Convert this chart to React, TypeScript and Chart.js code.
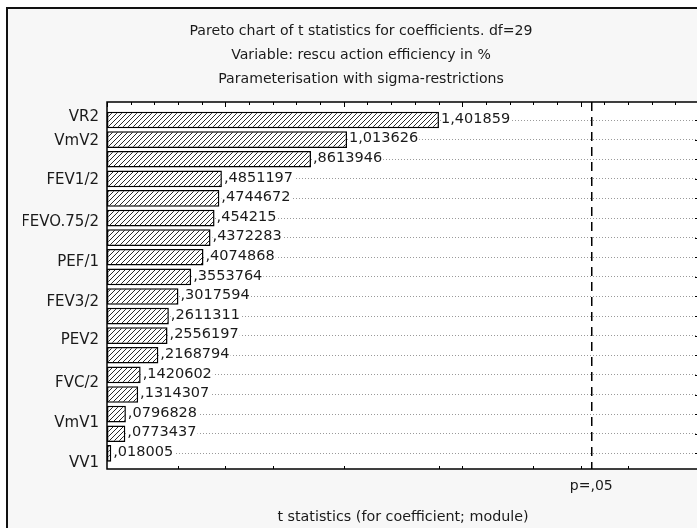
import React, { useEffect, useRef } from "react";
import { Chart, registerables } from "chart.js";

Chart.register(...registerables);

// ---- data ----
const tValues = [
  1.401859, 1.013626, 0.8613946, 0.4851197, 0.4744672, 0.454215, 0.4372283,
  0.4074868, 0.3553764, 0.3017594, 0.2611311, 0.2556197, 0.2168794, 0.1420602,
  0.1314307, 0.0796828, 0.0773437, 0.018005,
];
const effectLabels = ["VR2", "VmV2", "FEV1/2", "FEVO.75/2", "PEF/1", "FEV3/2", "PEV2", "FVC/2", "VmV1", "VV1"];
// where each effect label sits along the (row) category axis
const effectLabelRows = [0.83, 2.1, 4.06, 6.2, 8.24, 10.29, 12.22, 14.42, 16.46, 18.5];
const tCritical = 2.04523;
const pLabel = "p=,05";
const xMin = 0;
const xMax = 2.5;
const rowMin = 0.08;
const rowMax = 18.8;
const topTickStep = 0.1;
const topMajorStep = 0.5;
const bottomTickValues = [0.3, 0.5, 0.7, 1.0, 1.4, 1.5, 1.8, 2.0, 2.2];
const titleLines = [
  "Pareto chart of t statistics for coefficients. df=29",
  "Variable: rescu action efficiency in %",
  "Parameterisation with sigma-restrictions",
];
const xTitle = "t statistics (for coefficient; module)";

const FONT = '"DejaVu Sans", "Liberation Sans", Arial, sans-serif';
const TEXT = "#1a1a1a";

function fmt(v: number): string {
  return String(v).replace(/^0\./, ".").replace(".", ",");
}

export default function App() {
  const ref = useRef<HTMLCanvasElement | null>(null);

  useEffect(() => {
    const canvas = ref.current!;
    const ctx = canvas.getContext("2d")!;

    const pc = document.createElement("canvas");
    pc.width = 5;
    pc.height = 5;
    const p = pc.getContext("2d")!;
    p.fillStyle = "#fff";
    p.fillRect(0, 0, 5, 5);
    p.strokeStyle = "#2a2a2a";
    p.lineWidth = 1;
    p.beginPath();
    p.moveTo(0, 5);
    p.lineTo(5, 0);
    p.moveTo(-1, 1);
    p.lineTo(1, -1);
    p.moveTo(4, 6);
    p.lineTo(6, 4);
    p.stroke();
    const hatch = ctx.createPattern(pc, "repeat")!;

    const framePlugin = {
      id: "frame",
      beforeDraw(chart: any) {
        const c = chart.ctx;
        const { width, height, chartArea } = chart;
        c.save();
        c.fillStyle = "#fff";
        c.fillRect(0, 0, width, height);
        c.fillStyle = "#f7f7f7";
        c.fillRect(7, 8, width, height);
        c.strokeStyle = "#111";
        c.lineWidth = 2;
        c.beginPath();
        c.moveTo(7, height + 5);
        c.lineTo(7, 8);
        c.lineTo(width + 5, 8);
        c.stroke();
        c.fillStyle = "#fff";
        c.fillRect(chartArea.left, chartArea.top, chartArea.right - chartArea.left, chartArea.bottom - chartArea.top);
        c.restore();
      },
      afterDatasetsDraw(chart: any) {
        const c = chart.ctx;
        const { chartArea } = chart;
        const xs = chart.scales.x;
        const ys = chart.scales.y;
        const meta = chart.getDatasetMeta(0);
        c.save();
        // value labels
        c.font = `14.5px ${FONT}`;
        c.textBaseline = "middle";
        c.textAlign = "left";
        meta.data.forEach((bar: any, i: number) => {
          const t = fmt(tValues[i]);
          const w = c.measureText(t).width;
          const x = bar.x + 2;
          const y = bar.y - 1;
          c.fillStyle = "#fff";
          c.fillRect(x, bar.y - 3, w + 1, 6);
          c.fillStyle = TEXT;
          c.fillText(t, x, y);
        });
        // plot border
        c.strokeStyle = "#000";
        c.lineWidth = 1.5;
        c.strokeRect(chartArea.left, chartArea.top, chartArea.right - chartArea.left, chartArea.bottom - chartArea.top);
        // top ticks (inward)
        c.lineWidth = 1;
        const nTop = Math.round((xMax - xMin) / topTickStep);
        for (let k = 0; k <= nTop; k++) {
          const v = xMin + k * topTickStep;
          const r = v / topMajorStep;
          const major = Math.abs(r - Math.round(r)) < 1e-6;
          const px = Math.round(xs.getPixelForValue(v)) + 0.5;
          c.beginPath();
          c.moveTo(px, chartArea.top);
          c.lineTo(px, chartArea.top + (major ? 5 : 3));
          c.stroke();
        }
        // bottom ticks (inward)
        bottomTickValues.forEach((v) => {
          const px = Math.round(xs.getPixelForValue(v)) + 0.5;
          c.beginPath();
          c.moveTo(px, chartArea.bottom);
          c.lineTo(px, chartArea.bottom - 3);
          c.stroke();
        });
        // right ticks at rows
        tValues.forEach((_, i) => {
          const py = Math.round(ys.getPixelForValue(i + 1)) + 0.5;
          c.beginPath();
          c.moveTo(chartArea.right, py);
          c.lineTo(chartArea.right - 4, py);
          c.stroke();
        });
        c.restore();
      },
    };

    const chart = new Chart(ctx, {
      type: "bar",
      data: {
        datasets: [
          {
            data: tValues.map((v, i) => ({ x: v, y: i + 1 })) as any,
            backgroundColor: hatch as any,
            borderColor: "#000",
            borderWidth: 1.5,
            borderSkipped: false,
            barPercentage: 0.85,
            categoryPercentage: 1,
            xAxisID: "x",
            yAxisID: "y",
          },
        ],
      },
      options: {
        indexAxis: "y",
        responsive: false,
        animation: false,
        events: [],
        layout: { padding: { left: 23, right: 21, top: 0, bottom: 0 } },
        plugins: {
          legend: { display: false },
          tooltip: { enabled: false },
          title: {
            display: true,
            text: titleLines,
            color: TEXT,
            font: { family: FONT, size: 14.1, weight: "normal", lineHeight: 24 / 14.1 },
            padding: { top: 19, bottom: 11 },
          },
        },
        scales: {
          x: {
            type: "linear",
            position: "bottom",
            min: xMin,
            max: xMax,
            offset: false,
            afterBuildTicks: (s: any) => {
              s.ticks = [{ value: tCritical }];
            },
            afterFit: (s: any) => {
              s.height = 59;
            },
            ticks: {
              callback: () => pLabel,
              color: TEXT,
              font: { family: FONT, size: 14 },
              padding: 9,
              maxRotation: 0,
              autoSkip: false,
            },
            grid: { offset: false, drawOnChartArea: true, drawTicks: false, color: "#000", lineWidth: 1.5 },
            border: { display: false, dash: [9, 6] },
            title: {
              display: true,
              text: xTitle,
              color: TEXT,
              font: { family: FONT, size: 14.3 },
              padding: { top: 4, bottom: 2 },
            },
          },
          y: {
            type: "linear",
            position: "right",
            reverse: true,
            min: rowMin,
            max: rowMax,
            offset: false,
            afterBuildTicks: (s: any) => {
              s.ticks = tValues.map((_, i) => ({ value: i + 1 }));
            },
            afterFit: (s: any) => {
              s.width = 0;
            },
            ticks: { display: false },
            grid: { offset: false, drawTicks: false, color: "#9a9a9a", lineWidth: 1 },
            border: { display: false, dash: [1, 2] },
          },
          yl: {
            type: "linear",
            position: "left",
            reverse: true,
            min: rowMin,
            max: rowMax,
            offset: false,
            afterBuildTicks: (s: any) => {
              s.ticks = effectLabelRows.map((v) => ({ value: v }));
            },
            afterFit: (s: any) => {
              s.width = 84;
            },
            ticks: {
              callback: (_v: any, i: number) => effectLabels[i],
              color: TEXT,
              font: { family: FONT, size: 15 },
              padding: 8,
              autoSkip: false,
            },
            grid: { offset: false, display: false, drawTicks: false },
            border: { display: false },
          },
        },
      } as any,
      plugins: [framePlugin],
    });

    return () => chart.destroy();
  }, []);

  return (
    <div
      style={{
        position: "fixed",
        left: 0,
        top: 0,
        width: 697,
        height: 528,
        overflow: "hidden",
        background: "#fff",
      }}
    >
      <canvas ref={ref} width={720} height={528} style={{ display: "block" }} />
    </div>
  );
}
